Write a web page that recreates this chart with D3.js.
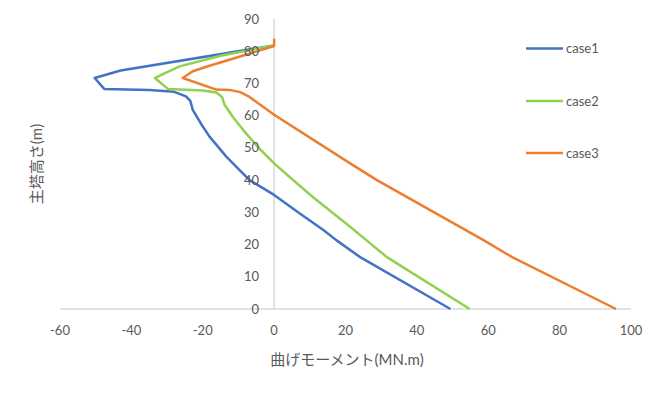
<!DOCTYPE html>
<html>
<head>
<meta charset="utf-8">
<script src="https://cdn.jsdelivr.net/npm/d3@7"></script>
<style>
  html, body { margin: 0; padding: 0; background: #fff; }
  svg { display: block; font-family: Lato, "Noto Sans CJK JP", sans-serif; }
</style>
</head>
<body>
<svg id="chart" width="660" height="396"></svg>
<script>
// ---- data (moment x, height y) ----
const seriesNames = ["case1", "case2", "case3"];
const seriesColors = ["#4472C4", "#92D050", "#ED7D31"];

const case1 = [
  [0, 81.8], [-43, 74.0], [-50.3, 71.7], [-47.6, 68.3], [-35, 68.0], [-28, 67.4],
  [-24.7, 66.0], [-23.5, 64.6], [-22.8, 61.8], [-20.5, 57.5], [-18.1, 53.5], [-13.4, 47.3],
  [-6.9, 40.0], [0, 35.4], [7, 29.8], [13.8, 24.5], [17.5, 21.3],
  [24.1, 16.1], [49.4, 0]
];
const case2 = [
  [0, 81.8], [-15, 78.6], [-26.5, 75.3], [-33.4, 71.7], [-29.8, 68.3], [-20, 67.8],
  [-16.2, 67.2], [-14.6, 65.8], [-13.9, 63.4], [-11.5, 59.5], [-8.7, 55.6], [-4.5, 50.2],
  [0, 45.2], [4.5, 40.8], [11, 34.6], [21.3, 25.5], [25.9, 21.3],
  [31.6, 16.1], [54.8, 0]
];
const case3 = [
  [0, 83.9], [0, 81.6], [-10, 78.2], [-19, 75.2], [-22.8, 73.8], [-25.6, 71.7],
  [-16.2, 68.1], [-12.5, 68.0], [-9.5, 67.3], [-6.9, 65.8], [0, 60.3], [21.3, 45.2],
  [28.8, 40.0], [58.8, 21.3], [66.7, 16.1], [95.8, 0]
];
const seriesData = [case1, case2, case3];

const xTicks = [-60, -40, -20, 0, 20, 40, 60, 80, 100];
const yTicks = [0, 10, 20, 30, 40, 50, 60, 70, 80, 90];
const xTitle = "曲げモーメント(MN.m)";
const yTitle = "主塔高さ(m)";

// ---- drawing ----
const svg = d3.select("#chart");
const x = d3.scaleLinear().domain([-60, 100]).range([60, 631]);
const y = d3.scaleLinear().domain([0, 90]).range([309, 19]);
const labelColor = "#595959";
const axisColor = "#D9D9D9";

// horizontal axis line (at y=0)
svg.append("line")
  .attr("x1", x(-60)).attr("x2", x(100))
  .attr("y1", y(0)).attr("y2", y(0))
  .attr("stroke", axisColor).attr("stroke-width", 1.5);

// vertical axis line (at x=0)
svg.append("line")
  .attr("x1", x(0)).attr("x2", x(0))
  .attr("y1", y(0)).attr("y2", y(90))
  .attr("stroke", axisColor).attr("stroke-width", 1.5);

// series lines
const line = d3.line().x(d => x(d[0])).y(d => y(d[1]));
seriesData.forEach((data, i) => {
  svg.append("path")
    .datum(data)
    .attr("d", line)
    .attr("fill", "none")
    .attr("stroke", seriesColors[i])
    .attr("stroke-width", 2.5)
    .attr("stroke-linejoin", "round");
});

// x tick labels
svg.append("g").selectAll("text")
  .data(xTicks).join("text")
  .attr("x", d => x(d))
  .attr("y", 335)
  .attr("text-anchor", "middle")
  .attr("font-size", 13)
  .attr("fill", labelColor)
  .text(d => d);

// y tick labels
svg.append("g").selectAll("text")
  .data(yTicks).join("text")
  .attr("x", x(0) - 15)
  .attr("y", d => y(d) + 4.5)
  .attr("text-anchor", "end")
  .attr("font-size", 13)
  .attr("fill", labelColor)
  .text(d => d);

// axis titles
svg.append("text")
  .attr("x", 347).attr("y", 365)
  .attr("text-anchor", "middle")
  .attr("font-size", 15)
  .attr("fill", labelColor)
  .text(xTitle);

svg.append("text")
  .attr("transform", "translate(42,164) rotate(-90)")
  .attr("text-anchor", "middle")
  .attr("font-size", 15)
  .attr("fill", labelColor)
  .text(yTitle);

// legend
const legendY = [48.5, 101, 153];
seriesNames.forEach((name, i) => {
  const g = svg.append("g");
  g.append("line")
    .attr("x1", 526).attr("x2", 563)
    .attr("y1", legendY[i]).attr("y2", legendY[i])
    .attr("stroke", seriesColors[i]).attr("stroke-width", 2.5);
  g.append("text")
    .attr("x", 566).attr("y", legendY[i] + 4.5)
    .attr("font-size", 13)
    .attr("fill", labelColor)
    .text(name);
});
</script>
</body>
</html>
